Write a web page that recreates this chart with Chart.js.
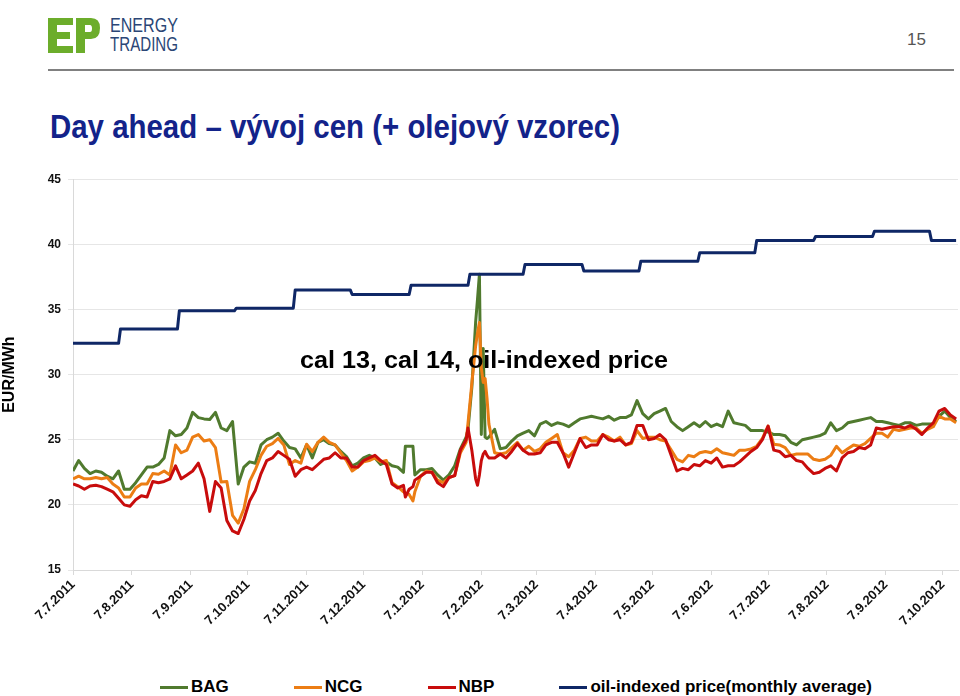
<!DOCTYPE html>
<html><head><meta charset="utf-8">
<script src="https://cdn.jsdelivr.net/npm/chart.js@4.4.0/dist/chart.umd.min.js"></script>
<style>
html,body{margin:0;padding:0;background:#fff;}
body{width:960px;height:696px;position:relative;overflow:hidden;font-family:"Liberation Sans",Arial,sans-serif;}
#logo{position:absolute;left:46px;top:16px;}
.brand{position:absolute;left:110px;font-family:"Liberation Sans",Arial,sans-serif;color:#2b4676;font-size:21px;line-height:21px;transform-origin:0 0;white-space:nowrap;}
#b1{top:14px;} #b2{top:33px;}
#page{position:absolute;left:907px;top:30px;font-size:17px;color:#555;}
#rule{position:absolute;left:48px;top:69px;width:906px;height:2px;background:#808080;}
#title{position:absolute;left:50px;top:108px;font-size:33px;font-weight:bold;color:#13238a;white-space:nowrap;transform-origin:0 0;}
#wrap{position:absolute;left:0;top:165px;width:960px;height:480px;}
#note{position:absolute;left:300px;top:346px;font-size:24px;font-weight:bold;color:#000;white-space:nowrap;transform-origin:0 0;}
#legend{position:absolute;left:160px;top:677px;display:flex;gap:65px;font-weight:bold;font-size:17px;color:#000;}
#legend .it{display:flex;align-items:center;}
#legend .ln{width:28px;height:3px;margin-right:3px;}
</style>
</head><body>
<svg id="logo" width="56" height="40" viewBox="0 0 56 40">
  <path d="M2 2 H27 V9 H11 V16 H24 V23 H11 V30 H27 V37 H2 Z" fill="#6cad2b"/>
  <path d="M30 2 H45 Q54 2 54 12 Q54 23 45 23 H39 V37 H30 Z M39 9 V16 H44 Q46 16 46 12.5 Q46 9 44 9 Z" fill="#6cad2b"/>
</svg>
<div class="brand" id="b1">ENERGY</div>
<div class="brand" id="b2">TRADING</div>
<div id="page">15</div>
<div id="rule"></div>
<div id="title">Day ahead – vývoj cen (+ olejový vzorec)</div>
<div id="wrap"><canvas id="c" width="960" height="480"></canvas></div>
<div id="note">cal 13, cal 14, oil-indexed price</div>
<div id="legend"></div>
<script>
// x tick labels (7th of each month)
const tickLabels = ['7.7.2011','7.8.2011','7.9.2011','7.10.2011','7.11.2011','7.12.2011','7.1.2012','7.2.2012','7.3.2012','7.4.2012','7.5.2012','7.6.2012','7.7.2012','7.8.2012','7.9.2012','7.10.2012'];

// sample days (days since 7.7.2011)
const sampleDays = [
0,3,6,9,12,15,18,21,24,27,
30,33,36,39,42,45,48,51,54,57,
60,63,66,69,72,75,78,81,84,87,
90,93,96,99,102,105,108,111,114,117,
120,123,126,129,132,135,138,141,144,147,
150,153,156,159,162,165,168,171,174,175,
177,179,180,183,186,189,192,195,198,201,
204,207,208,210,212,213,214,215,216,217,
218,219,222,225,228,231,234,237,240,243,
246,249,252,255,258,261,264,267,270,273,
276,279,282,285,288,291,294,297,300,303,
306,309,312,315,318,321,324,327,330,333,
336,339,342,345,348,351,354,357,360,363,
366,369,372,375,378,381,384,387,390,393,
396,399,402,405,408,411,414,417,420,423,
426,429,432,435,438,441,444,447,450,453,
456,459,462,465];

const bagValues = [
22.6,23.4,22.8,22.4,22.6,22.5,22.2,22.0,22.6,21.2,
21.2,21.7,22.3,22.9,22.9,23.1,23.6,25.7,25.3,25.4,
25.9,27.1,26.7,26.6,26.55,27.1,25.9,25.7,26.4,21.6,
22.9,23.3,23.2,24.6,25.0,25.2,25.5,24.9,24.4,24.3,
23.6,24.6,23.6,24.8,25.0,24.7,24.6,24.1,23.7,23.0,
23.2,23.6,23.8,23.6,23.1,23.3,23.0,22.9,22.5,24.5,
24.5,24.5,22.3,22.7,22.7,22.8,22.3,21.9,22.3,23.0,
24.3,25.2,25.8,29.0,34.0,35.8,37.7,25.4,32.0,25.2,
25.1,25.2,25.8,24.3,24.4,24.9,25.3,25.5,25.7,25.3,
26.2,26.4,26.1,26.3,26.2,26.0,26.3,26.6,26.7,26.8,
26.7,26.6,26.8,26.5,26.7,26.7,26.9,28.0,27.0,26.6,
27.0,27.2,27.4,26.4,26.0,25.7,26.0,26.3,26.0,26.4,
26.0,26.2,26.0,27.2,26.3,26.2,26.1,25.7,25.7,25.7,
25.6,25.4,25.4,25.3,24.8,24.6,25.0,25.1,25.2,25.3,
25.5,26.3,25.7,25.9,26.3,26.4,26.5,26.6,26.7,26.4,
26.4,26.3,26.2,26.1,26.3,26.3,26.1,26.2,26.2,26.2,
26.8,27.2,26.7,26.4];

const ncgValues = [
22.0,22.2,22.0,22.0,22.1,22.0,22.1,21.6,21.3,20.6,
20.6,21.3,21.6,21.6,22.4,22.35,22.6,22.3,24.6,24.0,
24.2,25.2,25.4,24.9,25.0,24.4,21.75,21.8,19.2,18.6,
19.7,21.8,22.7,23.8,24.5,24.7,25.1,24.6,23.1,23.4,
23.2,24.65,24.1,24.8,25.2,24.8,24.6,24.0,23.4,22.6,
22.9,23.3,23.4,23.6,23.3,23.4,21.7,21.4,21.0,20.9,
20.8,20.3,21.0,22.2,22.6,22.5,21.9,21.7,22.1,22.25,
24.0,24.8,26.3,29.3,32.2,33.2,34.0,30.5,29.4,29.7,
28.2,26.2,24.0,23.9,24.0,24.4,24.8,24.2,24.5,24.1,
24.3,24.8,25.1,25.4,24.0,23.7,24.2,25.1,25.2,24.9,
24.9,25.4,25.2,24.9,25.2,24.6,24.7,25.7,25.1,25.2,
25.2,25.0,24.9,24.2,23.5,23.3,23.8,23.7,24.0,24.1,
24.0,24.3,24.0,23.9,23.8,24.2,24.2,24.3,24.5,25.1,
26.05,24.65,24.6,24.4,23.8,23.9,23.9,23.9,23.5,23.4,
23.5,23.8,24.5,24.0,24.3,24.6,24.5,24.7,25.1,25.5,
25.5,25.2,25.8,25.7,25.8,25.9,25.9,25.5,25.8,26.0,
26.8,26.6,26.6,26.3];

const nbpValues = [
21.6,21.45,21.2,21.45,21.5,21.4,21.2,21.0,20.5,20.0,
19.9,20.4,20.7,20.6,21.8,21.7,21.8,22.0,23.0,22.0,
22.3,22.6,23.2,22.0,19.5,21.8,21.3,18.8,18.0,17.8,
18.9,20.3,21.1,22.4,23.4,23.6,24.1,23.8,23.5,22.2,
22.7,22.9,22.7,23.1,23.5,23.6,24.0,23.6,23.6,22.9,
22.9,23.4,23.6,23.8,23.4,23.1,21.6,21.3,21.5,20.6,
21.2,21.4,21.9,22.2,22.5,22.5,21.7,21.4,22.1,22.25,
24.2,25.0,25.9,24.2,22.0,21.5,22.3,23.4,23.9,24.1,
23.8,23.6,23.6,23.9,23.6,24.1,24.7,24.2,23.9,23.9,
24.0,24.6,24.8,24.8,24.0,22.9,24.0,25.1,24.4,24.6,
24.6,25.4,25.0,24.9,25.0,24.6,24.8,26.1,26.1,25.0,
25.1,25.4,25.0,23.8,22.6,22.8,22.7,23.1,23.0,23.4,
23.2,23.6,22.9,23.0,23.0,23.3,23.7,24.1,24.4,25.0,
26.05,24.2,24.1,23.7,23.8,23.4,23.3,22.8,22.4,22.5,
22.8,23.0,22.6,23.6,24.0,24.1,24.4,24.3,24.6,25.9,
25.8,25.9,26.0,26.0,25.9,26.1,25.8,25.4,25.9,26.3,
27.2,27.4,26.9,26.6];

// oil-indexed price, monthly average
const oilMonths = ['2011-07','2011-08','2011-09','2011-10','2011-11','2011-12','2012-01','2012-02','2012-03','2012-04','2012-05','2012-06','2012-07','2012-08','2012-09','2012-10'];
const oilValues = [32.4,33.5,34.9,35.1,36.5,36.15,36.85,37.7,38.45,37.95,38.7,39.35,40.3,40.6,41.0,40.3];

const seriesNames = ['BAG','NCG','NBP','oil-indexed price(monthly average)'];
const seriesColors = ['#507a2e','#ec7d14','#c80c0c','#0f2766'];

const LAST_DAY = 465;
function dayOf(y,m,d){ return Math.round((Date.UTC(y,m-1,d)-Date.UTC(2011,6,7))/86400000); }
const tickDays = tickLabels.map(s=>{ const p=s.split('.').map(Number); return dayOf(p[2],p[1],p[0]); });

const oilPoints = [];
oilMonths.forEach((mm,i)=>{
  const [y,m] = mm.split('-').map(Number);
  const s = Math.max(0, dayOf(y,m,1));
  const e = Math.min(LAST_DAY, dayOf(y,m+1,1)-1);
  oilPoints.push({x:s,y:oilValues[i]},{x:e,y:oilValues[i]});
});

const toPts = vals => sampleDays.map((d,i)=>({x:d,y:vals[i]}));
const FAM = '"Liberation Sans", Arial, sans-serif';

const lineDs = (label,data,color,order)=>({label,data,borderColor:color,backgroundColor:color,borderWidth:3,pointRadius:0,tension:0,fill:false,order,borderJoinStyle:'round'});

const chart = new Chart(document.getElementById('c'),{
  type:'line',
  data:{datasets:[
    lineDs(seriesNames[0],toPts(bagValues),seriesColors[0],3),
    lineDs(seriesNames[1],toPts(ncgValues),seriesColors[1],2),
    lineDs(seriesNames[2],toPts(nbpValues),seriesColors[2],1),
    lineDs(seriesNames[3],oilPoints,seriesColors[3],0)
  ]},
  options:{
    responsive:false, animation:false, devicePixelRatio:1,
    layout:{padding:{top:10,right:2,left:0,bottom:0}},
    plugins:{legend:{display:false},tooltip:{enabled:false}},
    scales:{
      x:{type:'linear',min:0,max:466,
        afterBuildTicks:s=>{ s.ticks = tickDays.map(v=>({value:v})); },
        afterFit:s=>{ s.height=75; },
        ticks:{autoSkip:false,maxRotation:45,minRotation:45,padding:2,color:'#111',
          font:{family:FAM,size:13,weight:'bold'},
          callback:(v,i)=>tickLabels[i]},
        grid:{drawOnChartArea:false,drawTicks:true,tickLength:5,color:'#d9d9d9'},
        border:{color:'#d9d9d9'}
      },
      y:{min:15,max:45,
        afterFit:s=>{ s.width=73; },
        ticks:{stepSize:5,padding:7,color:'#111',font:{family:FAM,size:12,weight:'bold'}},
        grid:{color:'#e6e6e6',tickLength:5},
        border:{color:'#d9d9d9'},
        title:{display:true,text:'EUR/MWh',color:'#000',font:{family:FAM,size:16,weight:'bold'},padding:{top:0,bottom:0}}
      }
    }
  }
});

// legend built from chart datasets
const lg = document.getElementById('legend');
chart.data.datasets.forEach(ds=>{
  const it=document.createElement('div'); it.className='it';
  const ln=document.createElement('div'); ln.className='ln'; ln.style.background=ds.borderColor;
  const tx=document.createElement('span'); tx.textContent=ds.label;
  it.appendChild(ln); it.appendChild(tx); lg.appendChild(it);
});

// fit header texts to their widths in the original slide
function fitW(id,w){ const el=document.getElementById(id); const r=el.getBoundingClientRect().width; el.style.transform='scaleX('+(w/r)+')'; }
fitW('title',570); fitW('b1',68); fitW('b2',68); fitW('note',368);
</script>
</body></html>
